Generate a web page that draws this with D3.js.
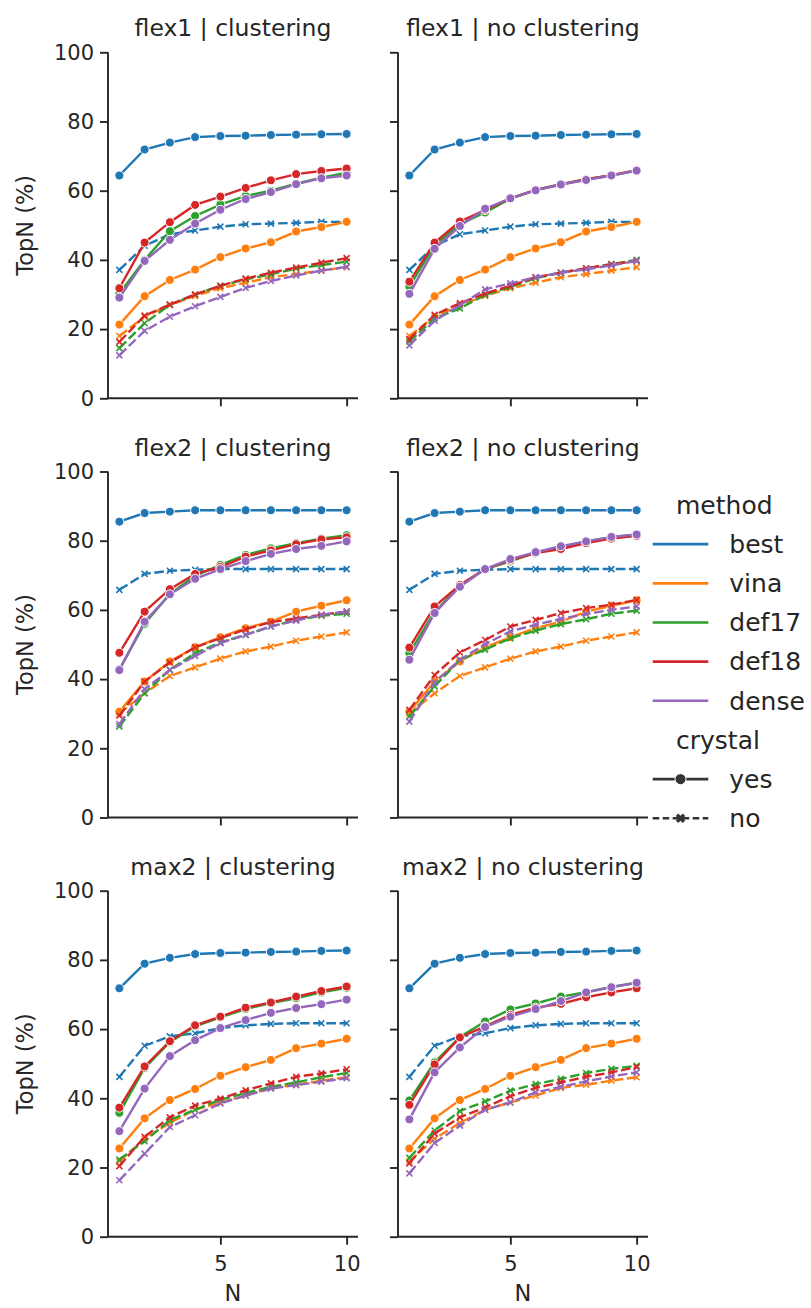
<!DOCTYPE html>
<html>
<head>
<meta charset="utf-8">
<script src="https://d3js.org/d3.v7.min.js"></script>
<style>
  body { margin: 0; background: #fff; }
  text { font-family: "DejaVu Sans", sans-serif; fill: #262626; }
</style>
</head>
<body>
<svg id="vis"></svg>

<script>
  // x values and categories
  var N = [1, 2, 3, 4, 5, 6, 7, 8, 9, 10];
  var methods = ['best', 'vina', 'def17', 'def18', 'dense'];
  var crystals = ['yes', 'no'];
  var colors = ['#1f77b4', '#ff7f0e', '#2ca02c', '#d62728', '#9467bd'];
  var receptors = ['flex1', 'flex2', 'max2'];
  var modes = ['clustering', 'no clustering'];
  var yTicks = [0, 20, 40, 60, 80, 100];
  var xTicks = [5, 10];

  // one array per panel and crystal, rows follow methods order
  var flex1ClustYes = [
    [64.4, 71.9, 73.9, 75.5, 75.8, 75.9, 76.1, 76.2, 76.3, 76.4],
    [21.3, 29.5, 34.2, 37.2, 40.8, 43.3, 45.1, 48.2, 49.5, 51.0],
    [30.3, 40.0, 48.3, 52.7, 56.0, 58.5, 60.0, 62.0, 63.8, 65.2],
    [31.8, 45.0, 50.9, 55.9, 58.3, 60.8, 63.0, 64.8, 65.7, 66.4],
    [29.1, 39.7, 45.8, 50.5, 54.5, 57.6, 59.6, 61.9, 63.6, 64.4]];
  var flex1ClustNo = [
    [37.1, 44.1, 47.4, 48.5, 49.6, 50.3, 50.5, 50.7, 51.0, 51.0],
    [18.0, 23.6, 27.0, 29.6, 31.8, 33.4, 35.0, 35.9, 36.9, 37.9],
    [14.5, 21.7, 27.0, 30.0, 32.5, 34.4, 35.8, 37.5, 38.5, 39.5],
    [16.3, 23.9, 27.1, 30.0, 32.5, 34.6, 36.3, 37.8, 39.2, 40.5],
    [12.4, 19.5, 23.6, 26.6, 29.3, 31.9, 33.9, 35.5, 36.9, 38.0]];
  var flex1NoClustYes = [
    [64.4, 71.9, 73.9, 75.5, 75.8, 75.9, 76.1, 76.2, 76.3, 76.4],
    [21.3, 29.5, 34.2, 37.2, 40.8, 43.3, 45.1, 48.2, 49.5, 51.0],
    [32.3, 44.3, 50.3, 53.7, 57.7, 60.2, 61.9, 63.3, 64.4, 65.8],
    [33.7, 45.0, 51.1, 54.4, 57.8, 60.2, 61.8, 63.3, 64.5, 65.9],
    [30.2, 43.2, 49.8, 54.8, 57.8, 60.1, 61.8, 63.1, 64.4, 65.8]];
  var flex1NoClustNo = [
    [37.1, 44.1, 47.4, 48.5, 49.6, 50.3, 50.5, 50.7, 51.0, 51.0],
    [18.0, 23.6, 27.0, 29.6, 31.8, 33.4, 35.0, 35.9, 36.9, 37.9],
    [16.4, 23.1, 26.0, 29.9, 32.2, 34.7, 36.3, 37.5, 38.8, 40.0],
    [17.1, 24.1, 27.5, 30.3, 32.5, 35.0, 36.3, 37.6, 38.7, 39.7],
    [15.3, 22.4, 26.9, 31.5, 33.2, 35.0, 36.3, 37.3, 38.4, 39.7]];

  var flex2ClustYes = [
    [85.5, 88.0, 88.4, 88.8, 88.8, 88.8, 88.8, 88.8, 88.8, 88.8],
    [30.6, 39.3, 45.1, 49.2, 52.1, 54.7, 56.6, 59.5, 61.2, 62.8],
    [42.8, 56.0, 64.6, 69.8, 73.0, 75.9, 77.8, 79.3, 80.6, 81.6],
    [47.6, 59.5, 66.0, 70.4, 72.4, 75.4, 77.2, 79.0, 80.4, 81.0],
    [42.6, 56.6, 64.5, 69.0, 71.8, 74.1, 76.2, 77.6, 78.5, 79.8]];
  var flex2ClustNo = [
    [65.8, 70.4, 71.3, 71.6, 71.8, 71.8, 71.8, 71.8, 71.8, 71.8],
    [30.0, 35.9, 40.9, 43.4, 45.9, 48.0, 49.4, 51.1, 52.3, 53.5],
    [26.3, 35.9, 42.7, 47.5, 50.6, 52.8, 55.2, 57.1, 58.3, 58.9],
    [29.4, 39.3, 44.8, 49.2, 51.8, 54.4, 56.5, 57.5, 58.6, 59.5],
    [27.0, 37.1, 42.6, 46.7, 50.4, 52.8, 55.2, 56.9, 58.6, 59.5]];
  var flex2NoClustYes = [
    [85.5, 88.0, 88.4, 88.8, 88.8, 88.8, 88.8, 88.8, 88.8, 88.8],
    [30.6, 39.3, 45.1, 49.2, 52.1, 54.7, 56.6, 59.5, 61.2, 62.8],
    [47.5, 59.5, 67.0, 71.8, 74.0, 76.6, 78.1, 79.8, 81.0, 81.8],
    [49.1, 61.0, 67.2, 71.8, 74.3, 76.4, 77.6, 79.3, 80.6, 81.4],
    [45.6, 59.1, 66.7, 71.8, 74.7, 76.7, 78.4, 79.8, 81.1, 81.8]];
  var flex2NoClustNo = [
    [65.8, 70.4, 71.3, 71.6, 71.8, 71.8, 71.8, 71.8, 71.8, 71.8],
    [30.0, 35.9, 40.9, 43.4, 45.9, 48.0, 49.4, 51.1, 52.3, 53.5],
    [29.2, 37.9, 45.6, 48.5, 51.8, 54.0, 55.9, 57.3, 58.9, 59.8],
    [31.1, 41.2, 47.7, 51.3, 55.2, 57.1, 59.1, 60.5, 61.5, 62.9],
    [27.7, 39.0, 45.6, 50.1, 53.8, 55.7, 57.4, 58.8, 60.0, 61.0]];

  var max2ClustYes = [
    [71.8, 78.9, 80.6, 81.7, 82.0, 82.1, 82.3, 82.4, 82.6, 82.7],
    [25.5, 34.2, 39.5, 42.7, 46.5, 49.0, 51.1, 54.5, 55.8, 57.2],
    [35.8, 48.8, 56.2, 60.8, 63.4, 65.8, 67.5, 68.9, 70.6, 71.9],
    [37.3, 49.2, 56.5, 61.1, 63.6, 66.2, 67.7, 69.4, 71.0, 72.3],
    [30.5, 42.8, 52.2, 56.8, 60.3, 62.6, 64.7, 66.1, 67.2, 68.5]];
  var max2ClustNo = [
    [46.2, 55.2, 57.9, 58.8, 60.3, 61.1, 61.5, 61.7, 61.7, 61.7],
    [21.8, 28.3, 32.9, 36.7, 38.8, 40.8, 43.0, 43.9, 45.1, 46.1],
    [22.3, 27.6, 33.7, 36.7, 39.6, 41.5, 43.3, 44.6, 46.1, 47.3],
    [20.4, 28.9, 34.5, 37.9, 39.9, 42.3, 44.3, 46.2, 47.2, 48.4],
    [16.3, 24.0, 31.7, 35.1, 38.5, 40.8, 42.8, 43.8, 44.8, 45.8]];
  var max2NoClustYes = [
    [71.8, 78.9, 80.6, 81.7, 82.0, 82.1, 82.3, 82.4, 82.6, 82.7],
    [25.5, 34.2, 39.5, 42.7, 46.5, 49.0, 51.1, 54.5, 55.8, 57.2],
    [39.4, 50.4, 57.7, 62.2, 65.7, 67.4, 69.4, 70.7, 72.2, 73.4],
    [38.1, 49.8, 57.6, 60.8, 64.1, 66.2, 67.3, 69.2, 70.6, 71.8],
    [33.9, 47.5, 54.7, 60.6, 63.6, 65.8, 68.1, 70.6, 72.1, 73.4]];
  var max2NoClustNo = [
    [46.2, 55.2, 57.9, 58.8, 60.3, 61.1, 61.5, 61.7, 61.7, 61.7],
    [21.8, 28.3, 32.9, 36.7, 38.8, 40.8, 43.0, 43.9, 45.1, 46.1],
    [22.8, 30.7, 36.3, 39.1, 42.2, 44.1, 45.6, 47.3, 48.5, 49.4],
    [21.2, 29.8, 34.5, 37.4, 40.6, 43.0, 44.6, 46.2, 47.5, 49.0],
    [18.3, 27.1, 32.1, 36.7, 38.8, 41.7, 43.3, 44.9, 46.3, 47.5]];

  // [row][col] -> [yes, no]
  var panels = [
    [[flex1ClustYes, flex1ClustNo], [flex1NoClustYes, flex1NoClustNo]],
    [[flex2ClustYes, flex2ClustNo], [flex2NoClustYes, flex2NoClustNo]],
    [[max2ClustYes, max2ClustNo], [max2NoClustYes, max2NoClustNo]]];

  var W = 811, H = 1308;
  var colX = [108, 398], rowY = [52.3, 471.5, 890.7];
  var pw = 250, ph = 346;
  var ink = '#262626';

  var svg = d3.select('#vis').attr('width', W).attr('height', H);

  var x = d3.scaleLinear().domain([0.55, 10.45]).range([0, pw]);
  var y = d3.scaleLinear().domain([0, 100]).range([ph, 0]);

  var line = d3.line()
      .x(function(d, i) {return x(N[i]);})
      .y(function(d) {return y(d);});

  function xMark(sel, s) {
    return sel.append('path').attr('d', 'M' + (-s) + ',' + (-s) + 'L' + s + ',' + s + 'M' + (-s) + ',' + s + 'L' + s + ',' + (-s));
  }

  receptors.forEach(function(rec, r) {
    modes.forEach(function(mode, c) {
      var g = svg.append('g').attr('transform', 'translate(' + colX[c] + ',' + rowY[r] + ')');

      // axes
      var yAxis = d3.axisLeft(y).tickValues(yTicks).tickSize(8).tickPadding(6)
          .tickFormat(c === 0 ? d3.format('d') : '');
      var xAxis = d3.axisBottom(x).tickValues(xTicks).tickSize(8).tickPadding(6)
          .tickFormat(r === 2 ? d3.format('d') : '');

      var ya = g.append('g').call(yAxis);
      var xa = g.append('g').attr('transform', 'translate(0,' + ph + ')').call(xAxis);
      [ya, xa].forEach(function(a) {
        a.select('.domain').attr('stroke', ink).attr('stroke-width', 1.9)
            .attr('d', a === ya ? 'M0,' + ph + 'V0' : 'M0,0H' + pw);
        a.selectAll('.tick line').attr('stroke', ink).attr('stroke-width', 1.9);
        a.selectAll('.tick text').attr('font-size', 21).attr('fill', ink);
      });
      xa.selectAll('.tick text').attr('dy', '0.95em');

      // title
      g.append('text').attr('x', pw / 2).attr('y', -16)
          .attr('text-anchor', 'middle').attr('font-size', 23.5)
          .text(rec + ' | ' + mode);

      if (c === 0) {
        g.append('text')
            .attr('transform', 'translate(' + (25.5 - colX[0]) + ',' + (ph / 2) + ') rotate(-90)')
            .attr('text-anchor', 'middle').attr('dy', '0.35em').attr('font-size', 22.5)
            .text('TopN (%)');
      }
      if (r === 2) {
        g.append('text').attr('x', pw / 2).attr('y', ph + 64)
            .attr('text-anchor', 'middle').attr('font-size', 22.5).text('N');
      }

      // lines and markers, seaborn order: hue then style
      methods.forEach(function(m, mi) {
        crystals.forEach(function(cr, ci) {
          var vals = panels[r][c][ci][mi];
          var lg = g.append('g');
          lg.append('path').datum(vals)
              .attr('d', line)
              .attr('fill', 'none')
              .attr('stroke', colors[mi])
              .attr('stroke-width', 2.4)
              .attr('stroke-dasharray', cr === 'no' ? '9.6,3.6' : null);
          if (cr === 'yes') {
            lg.selectAll('circle').data(vals).enter().append('circle')
                .attr('cx', function(d, i) {return x(N[i]);})
                .attr('cy', function(d) {return y(d);})
                .attr('r', 4.5)
                .attr('fill', colors[mi])
                .attr('stroke', '#fff').attr('stroke-width', 1);
          } else {
            vals.forEach(function(d, i) {
              xMark(lg.append('g').attr('transform', 'translate(' + x(N[i]) + ',' + y(d) + ')'), 3)
                  .attr('stroke', colors[mi]).attr('stroke-width', 1.6).attr('fill', 'none');
            });
          }
        });
      });
    });
  });

  // legend: 9 rows (two titles, five methods, two crystal values)
  var leg = svg.append('g');
  var legX0 = 652.7, legX1 = 708.3, legText = 729.3, legTitleX = 676;
  var legY = d3.scalePoint().domain(d3.range(9)).range([505, 818.3]);

  leg.append('text').attr('x', legTitleX).attr('y', legY(0)).attr('dy', '0.35em')
      .attr('font-size', 25).text('method');
  methods.forEach(function(m, i) {
    var yy = legY(i + 1);
    leg.append('line').attr('x1', legX0).attr('x2', legX1).attr('y1', yy).attr('y2', yy)
        .attr('stroke', colors[i]).attr('stroke-width', 2.6);
    leg.append('text').attr('x', legText).attr('y', yy).attr('dy', '0.35em')
        .attr('font-size', 25).text(m);
  });
  leg.append('text').attr('x', legTitleX).attr('y', legY(6)).attr('dy', '0.35em')
      .attr('font-size', 25).text('crystal');
  crystals.forEach(function(cr, i) {
    var yy = legY(7 + i);
    leg.append('line').attr('x1', legX0).attr('x2', legX1).attr('y1', yy).attr('y2', yy)
        .attr('stroke', '#333').attr('stroke-width', 2.6)
        .attr('stroke-dasharray', cr === 'no' ? '6.5,3.5' : null);
    if (cr === 'yes') {
      leg.append('circle').attr('cx', (legX0 + legX1) / 2).attr('cy', yy).attr('r', 5.5)
          .attr('fill', '#333').attr('stroke', '#fff').attr('stroke-width', 1);
    } else {
      xMark(leg.append('g').attr('transform', 'translate(' + (legX0 + legX1) / 2 + ',' + yy + ')'), 3.5)
          .attr('stroke', '#333').attr('stroke-width', 3.4).attr('fill', 'none');
    }
    leg.append('text').attr('x', legText).attr('y', yy).attr('dy', '0.35em')
        .attr('font-size', 25).text(cr);
  });
</script>
</body>
</html>
